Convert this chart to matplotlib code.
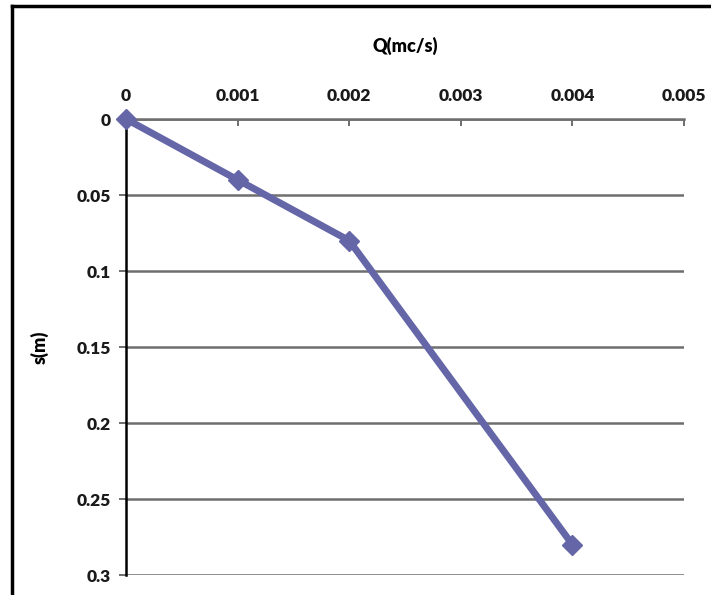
import numpy as np
import matplotlib.pyplot as plt
from matplotlib.lines import Line2D

# data
q = [0, 0.001, 0.002, 0.004]
s = [0, 0.04, 0.08, 0.28]
x_ticks = [0, 0.001, 0.002, 0.003, 0.004, 0.005]
y_ticks = [0, 0.05, 0.1, 0.15, 0.2, 0.25, 0.3]
x_labels = ["0", "0.001", "0.002", "0.003", "0.004", "0.005"]
y_labels = ["0", "0.05", "0.1", "0.15", "0.2", "0.25", "0.3"]

plt.rcParams['font.family'] = ['Lato', 'DejaVu Sans']

fig = plt.figure(figsize=(7.11, 5.95), dpi=100)
W, H = 711, 595
ax = fig.add_axes([126 / W, 1 - 575 / H, (684 - 126) / W, (575 - 119) / H])

line_col = '#6466a8'
ax.plot(q, s, color=line_col, lw=5, marker='D', markersize=10,
        markeredgecolor=line_col, clip_on=False, zorder=5)

ax.set_xlim(0, 0.005)
ax.set_ylim(0.3, 0)
ax.xaxis.tick_top()
ax.xaxis.set_label_position('top')
ax.set_xticks(x_ticks)
ax.set_xticklabels(x_labels)
ax.set_yticks(y_ticks)
ax.set_yticklabels(y_labels)
ax.tick_params(axis='x', direction='in', length=5, width=1.2, color='#555555',
               pad=11, labelsize=12.5, labelcolor='#1a1a1a')
ax.tick_params(axis='y', direction='out', length=5, width=1.2, color='#555555',
               pad=6, labelsize=12.5, labelcolor='#1a1a1a')
for lab in ax.get_xticklabels() + ax.get_yticklabels():
    lab.set_fontweight('heavy')

ax.grid(axis='y', color='#6e6e6e', lw=1.8)
ax.set_axisbelow(True)
for side in ['right', 'bottom']:
    ax.spines[side].set_visible(False)
ax.spines['left'].set_color('black')
ax.spines['left'].set_linewidth(1.8)
ax.spines['top'].set_color('#6e6e6e')
ax.spines['top'].set_linewidth(1.8)

ax.set_xlabel("Q(mc/s)", fontsize=13, fontweight='heavy', labelpad=26)
ax.set_ylabel("s(m)", fontsize=13, fontweight='heavy', labelpad=20)

# outer frame (left and top edges only show in the crop)
fig.add_artist(Line2D([11.5 / W, 11.5 / W], [0, 1 - 6 / H], color='black', lw=2.5))
fig.add_artist(Line2D([11.5 / W, 1], [1 - 6 / H, 1 - 6 / H], color='black', lw=2.5))

fig.savefig("out.png", dpi=100)
